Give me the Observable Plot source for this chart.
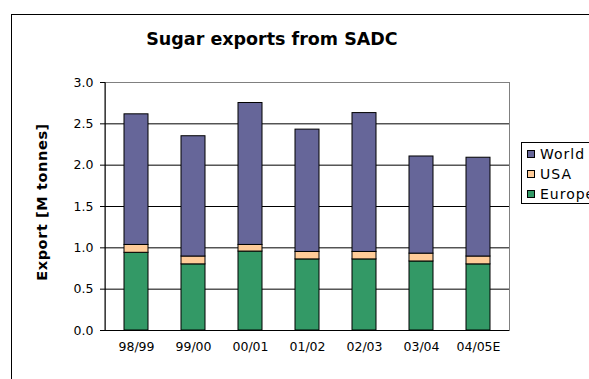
<!DOCTYPE html>
<html>
<head>
<meta charset="utf-8">
<script src="https://cdn.jsdelivr.net/npm/d3@7"></script>
<script src="https://cdn.jsdelivr.net/npm/@observablehq/plot@0.6"></script>
<style>
  html, body { margin: 0; padding: 0; background: #fff; }
  svg { display: block; }
</style>
</head>
<body>
<div id="chart"></div>
<script>
const categories = ["98/99", "99/00", "00/01", "01/02", "02/03", "03/04", "04/05E"];
const europe = [0.94, 0.80, 0.955, 0.86, 0.86, 0.835, 0.80];
const usa = [0.095, 0.095, 0.08, 0.09, 0.09, 0.095, 0.095];
const world = [1.58, 1.455, 1.717, 1.48, 1.68, 1.175, 1.195];
const seriesNames = ["World", "USA", "Europe"];
const seriesColors = ["#666699", "#FFCC99", "#339966"];
const stackOrder = ["Europe", "USA", "World"];
const yTicks = [0, 0.5, 1.0, 1.5, 2.0, 2.5, 3.0];
const gridTicks = [0.5, 1.0, 1.5, 2.0, 2.5];
const titleText = "Sugar exports from SADC";
const yLabel = "Export [M tonnes]";

const seriesValues = { World: world, USA: usa, Europe: europe };
const rows = [];
categories.forEach((c, i) => {
  stackOrder.forEach(s => rows.push({ cat: c, series: s, value: seriesValues[s][i] }));
});

const W = 589, H = 379;
const plot = Plot.plot({
  width: W,
  height: H,
  marginLeft: 105,
  marginRight: 80,
  marginTop: 82,
  marginBottom: 49,
  style: { fontFamily: "DejaVu Sans, Verdana, sans-serif", fontSize: "12px", color: "#000", background: "#fff" },
  x: { domain: categories, paddingInner: 0.58, paddingOuter: 0.29, label: null },
  y: { domain: [0, 3], label: null },
  color: { domain: seriesNames, range: seriesColors },
  marks: [
    Plot.frame({ stroke: "#808080" }),
    Plot.gridY(gridTicks, { stroke: "#000", strokeOpacity: 1 }),
    Plot.barY(rows, { x: "cat", y: "value", fill: "series", stroke: "#000", strokeWidth: 1, order: stackOrder }),
    Plot.ruleY([0], { stroke: "#000" }),
    Plot.axisY({ ticks: yTicks, tickFormat: d => d.toFixed(1), tickSize: 5, tickPadding: 7, label: null, fontSize: 12.5 }),
    Plot.axisX({ tickSize: 0, tickPadding: 12, label: null, fontSize: 12.5 })
  ]
});

const svg = d3.select(plot);
// left axis line
svg.append("line")
  .attr("x1", 105).attr("x2", 105).attr("y1", 82).attr("y2", 330)
  .attr("stroke", "#000");

// outer chart border
svg.append("rect")
  .attr("x", 11.5).attr("y", 14.5).attr("width", 700).attr("height", 500)
  .attr("fill", "none").attr("stroke", "#000");

// title
svg.append("text")
  .attr("x", 272).attr("y", 45)
  .attr("text-anchor", "middle")
  .attr("font-family", "DejaVu Sans, Verdana, sans-serif")
  .attr("font-weight", "bold").attr("font-size", 17.5)
  .text(titleText);

// y axis label
svg.append("text")
  .attr("transform", "translate(47,202) rotate(-90)")
  .attr("text-anchor", "middle")
  .attr("font-family", "DejaVu Sans, Verdana, sans-serif")
  .attr("font-weight", "bold").attr("font-size", 14.5)
  .attr("letter-spacing", 0.6)
  .text(yLabel);

// legend
const lg = svg.append("g")
  .attr("font-family", "DejaVu Sans, Verdana, sans-serif")
  .attr("font-size", 14)
  .attr("letter-spacing", 1)
  .attr("text-anchor", "start");
lg.append("rect").attr("x", 521.5).attr("y", 142.5).attr("width", 100).attr("height", 61)
  .attr("fill", "#fff").attr("stroke", "#000");
seriesNames.forEach((s, i) => {
  const cy = 154 + i * 20;
  lg.append("rect").attr("x", 527.5).attr("y", cy - 3.5).attr("width", 7).attr("height", 7)
    .attr("fill", seriesColors[i]).attr("stroke", "#000");
  lg.append("text").attr("x", 540).attr("y", cy).attr("dy", "0.36em").attr("text-anchor", "start").text(s);
});

document.getElementById("chart").appendChild(plot);
</script>
</body>
</html>
